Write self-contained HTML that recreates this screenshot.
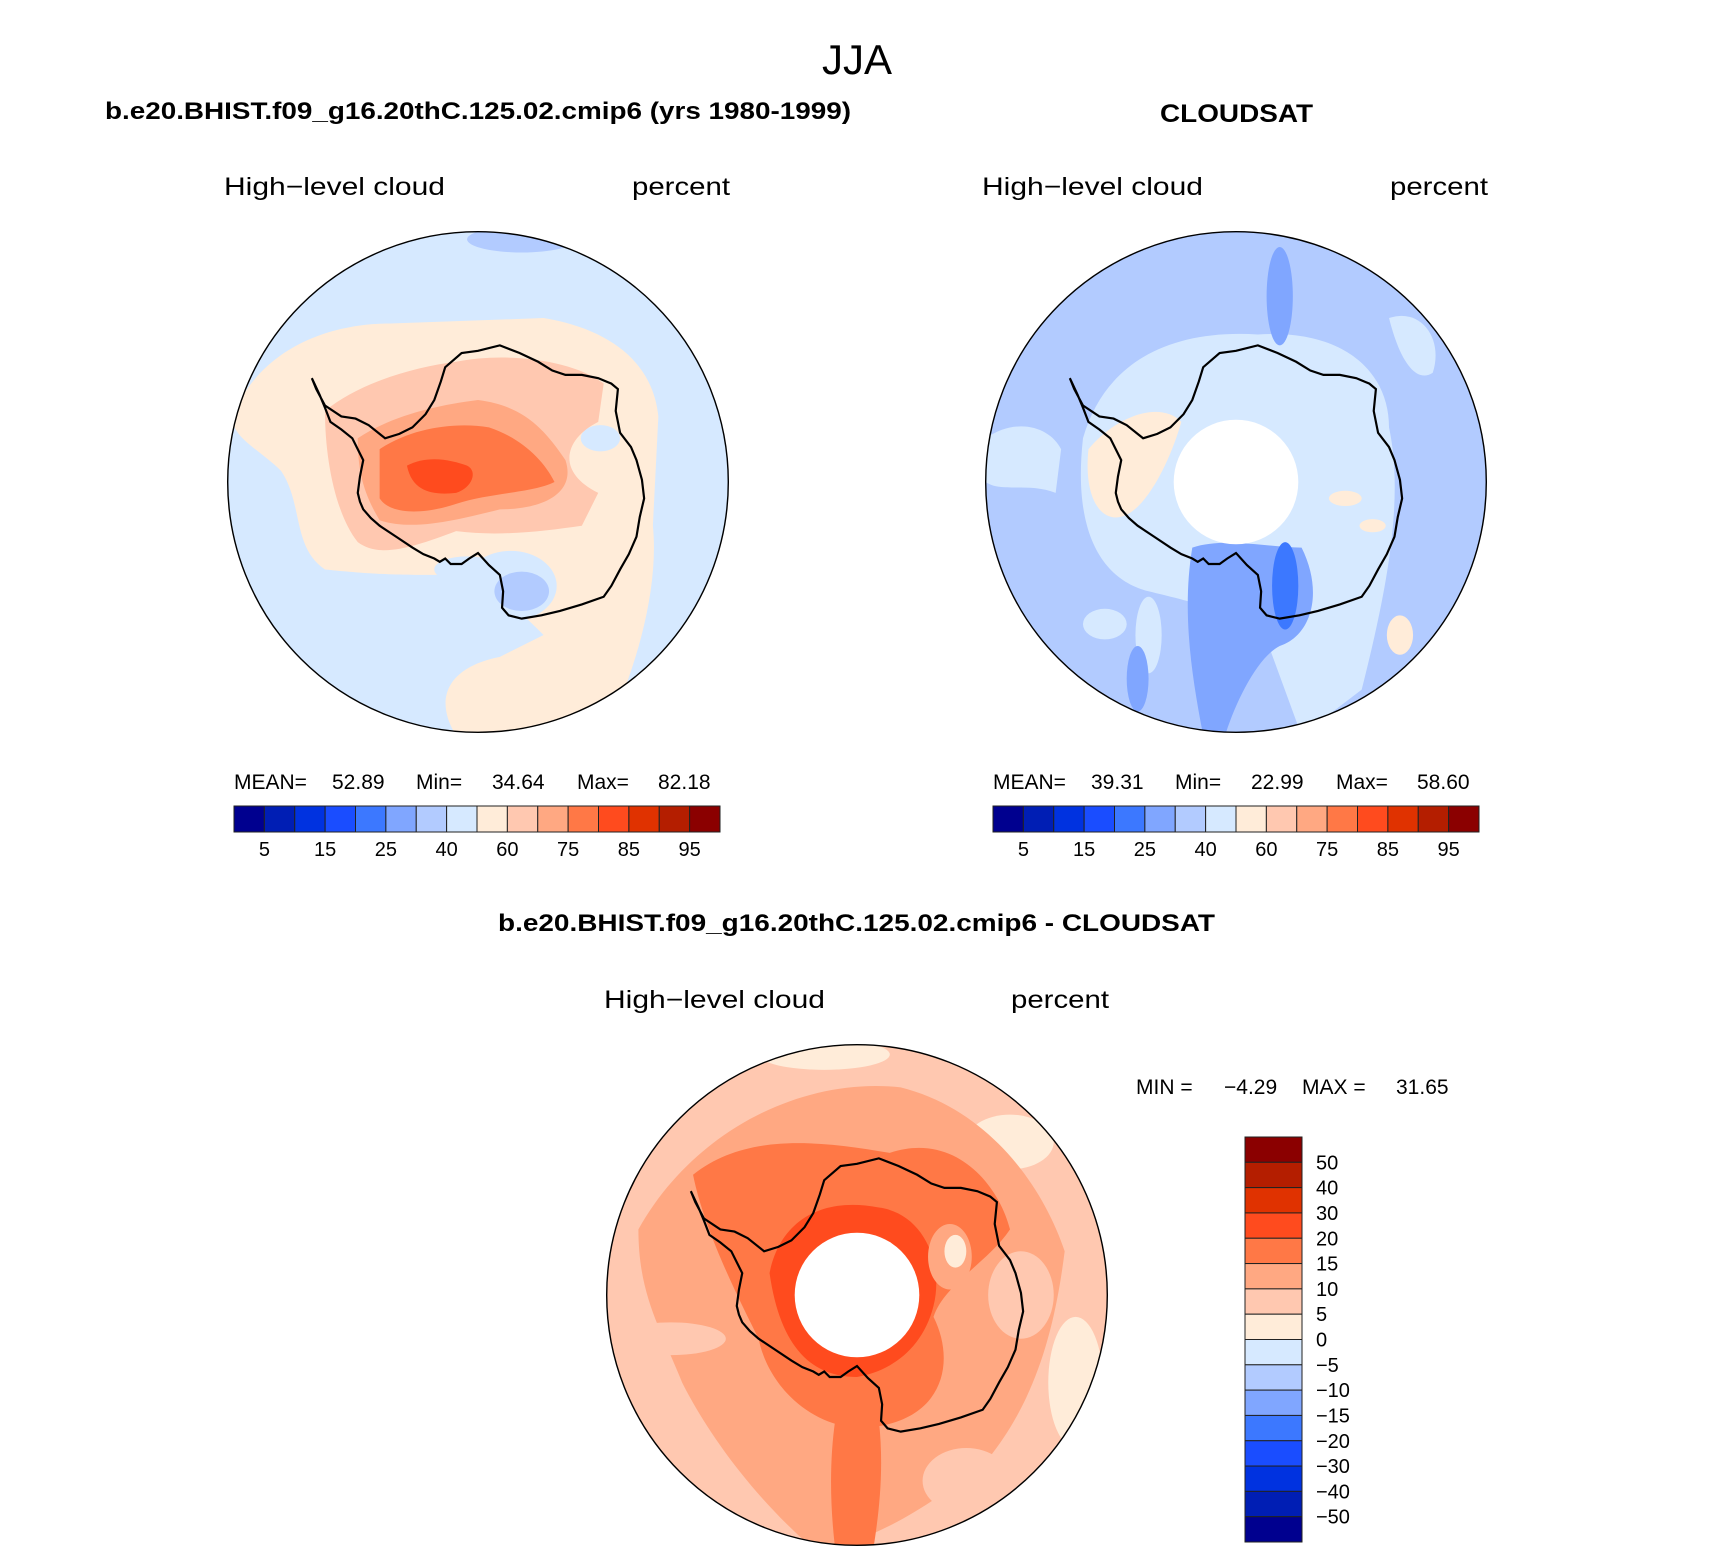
<!DOCTYPE html>
<html><head><meta charset="utf-8">
<style>
html,body{margin:0;padding:0;background:#fff;}
svg{display:block;}
text{font-family:"Liberation Sans",sans-serif;fill:#000;}
</style></head>
<body>
<svg id="fig" width="1710" height="1549" viewBox="0 0 1710 1549" xmlns="http://www.w3.org/2000/svg">
<defs>
  <path id="coast" d="M-152,-95 L-148,-85 L-140,-70 L-125,-60 L-112,-58 L-100,-52 L-85,-40 L-72,-44 L-60,-50 L-48,-62 L-40,-75 L-34,-92 L-30,-105 L-15,-118 L0,-120 L20,-125 L38,-118 L55,-110 L68,-102 L80,-98 L95,-98 L110,-95 L122,-90 L128,-85 L126,-65 L130,-45 L140,-32 L145,-20 L150,-2 L152,15 L148,32 L145,50 L138,66 L130,80 L122,95 L115,105 L95,112 L75,118 L58,122 L40,125 L28,122 L22,115 L23,100 L20,85 L10,76 L0,65 L-8,70 L-15,75 L-25,75 L-30,70 L-35,73 L-40,70 L-50,66 L-60,60 L-75,50 L-90,40 L-98,33 L-105,25 L-108,18 L-110,10 L-108,-5 L-105,-20 L-110,-30 L-115,-40 L-125,-48 L-135,-55 L-140,-68 L-145,-80 Z" fill="none" stroke="#000" stroke-width="2"/>
  <clipPath id="circ"><circle cx="0" cy="0" r="229"/></clipPath>
</defs>
<g id="root"></g>
</svg>
<script>
// ---- colorbar data ----
const mainColors = ["#00008f","#001eb4","#0032e0","#1a4dff","#3c78ff","#80a6ff","#b2cbff","#d6e9ff","#ffecd9","#ffc8b0","#ffa882","#ff7846","#ff4b1e","#e03200","#b41e00","#8b0000"];
const mainTickLabels = ["5","15","25","40","60","75","85","95"];
const diffTickLabels = ["50","40","30","20","15","10","5","0","\u22125","\u221210","\u221215","\u221220","\u221230","\u221240","\u221250"];
const modelStats = ["52.89","34.64","82.18"];
const obsStats = ["39.31","22.99","58.60"];
const diffStats = ["\u22124.29","31.65"];

const NS="http://www.w3.org/2000/svg";
const root=document.getElementById('root');
function mk(tag,attrs,parent){const e=document.createElementNS(NS,tag);for(const k in attrs)e.setAttribute(k,attrs[k]);(parent||root).appendChild(e);return e;}
function txt(s,attrs,parent){const e=mk('text',attrs,parent);e.textContent=s;return e;}
const C=mainColors;

// ---- titles ----
let t;
t=txt("JJA",{x:857,y:74,"font-size":42,"text-anchor":"middle","font-weight":"normal"});


t=txt("b.e20.BHIST.f09_g16.20thC.125.02.cmip6 (yrs 1980-1999)",{x:105,y:119,"font-size":24,"font-weight":"bold",textLength:746,lengthAdjust:"spacingAndGlyphs"});


t=txt("CLOUDSAT",{x:1160,y:122,"font-size":25,"font-weight":"bold",textLength:153,lengthAdjust:"spacingAndGlyphs"});


t=txt("b.e20.BHIST.f09_g16.20thC.125.02.cmip6 - CLOUDSAT",{x:498,y:931,"font-size":24,"font-weight":"bold",textLength:717,lengthAdjust:"spacingAndGlyphs"});



function subtitles(x1,x2,y,name){
  let a=txt("High\u2212level cloud",{x:x1,y:y,"font-size":25,textLength:221,lengthAdjust:"spacingAndGlyphs"});
  
  
  let b=txt("percent",{x:x2,y:y,"font-size":25,textLength:98,lengthAdjust:"spacingAndGlyphs"});
  
  
}
subtitles(224,632,195,'model');
subtitles(982,1390,195,'obs');
subtitles(604,1011,1008,'diff');

// ---- maps ----
function mapPanel(cx,cy,name,base,shapes,hole){
  const g=mk('g',{transform:`translate(${cx},${cy}) scale(1.093)`});
  
  
  const inner=mk('g',{"clip-path":"url(#circ)"},g);
  mk('circle',{cx:0,cy:0,r:229,fill:base},inner);
  shapes.forEach(s=>{mk(s.e||'path',Object.assign({},s.a),inner);});
  mk('use',{href:"#coast"},g);
  if(hole){const h=mk('circle',{cx:0,cy:0,r:57,fill:"#fff"},g);}
  const o=mk('circle',{cx:0,cy:0,r:229,fill:"none",stroke:"#000","stroke-width":1.3},g);
  
  
}
const P=(d,f)=>({a:{d:d,fill:f}});
const E=(cx,cy,rx,ry,f)=>({e:'ellipse',a:{cx,cy,rx,ry,fill:f}});

mapPanel(478,482,'model',C[7],[
  E(40,-222,50,12,C[6]),
  P("M-225,-60 C-200,-120 -140,-145 -80,-145 L60,-150 C120,-140 160,-110 165,-60 L160,40 C165,90 150,150 130,200 L60,232 L-20,232 C-40,200 -30,170 20,160 L60,140 C40,120 10,90 -30,85 C-70,85 -90,85 -140,80 C-170,60 -160,20 -180,-10 C-200,-30 -225,-40 -225,-60Z",C[8]),
  E(30,95,42,32,C[7]),E(40,100,25,18,C[6]),E(112,-40,18,12,C[7]),E(-10,80,30,12,C[7]),
  P("M-140,-65 C-110,-90 -60,-105 -20,-110 C30,-120 90,-110 115,-90 L110,-55 C80,-40 70,-10 110,10 L95,40 C60,45 20,50 -20,45 C-60,60 -90,70 -110,55 C-130,30 -140,-20 -140,-65Z",C[9]),
  P("M-110,-40 C-80,-60 -40,-70 0,-75 C40,-70 60,-50 80,-20 C90,10 60,25 20,25 C-20,35 -60,45 -90,35 C-105,10 -110,-10 -110,-40Z",C[10]),
  P("M-90,-30 C-60,-50 -20,-55 10,-50 C40,-40 60,-20 70,0 C50,10 10,10 -20,20 C-50,30 -80,30 -90,15Z",C[11]),
  P("M-65,-15 C-45,-25 -25,-20 -10,-15 C0,-10 -5,5 -20,10 C-40,12 -60,10 -65,-15Z",C[12])
],false);

mapPanel(1236,482,'obs',C[6],[
  P("M-140,-40 C-120,-110 -60,-140 20,-135 C100,-140 140,-100 140,-50 C155,20 135,110 115,190 L60,232 L30,150 C10,120 -40,110 -80,100 C-120,90 -150,50 -140,-40Z",C[7]),
  P("M-229,-40 C-200,-60 -170,-50 -160,-30 L-165,10 C-190,0 -215,10 -229,0Z",C[7]),
  P("M140,-150 C170,-160 190,-130 180,-100 C165,-90 150,-110 140,-150Z",C[7]),
  E(40,-170,12,45,C[5]),E(-80,140,12,35,C[7]),E(-120,130,20,14,C[7]),
  P("M-135,-30 C-110,-60 -70,-75 -50,-55 C-60,-20 -80,20 -100,30 C-120,40 -140,20 -135,-30Z",C[8]),
  E(100,15,15,7,C[8]),E(125,40,12,6,C[8]),E(150,140,12,18,C[8]),
  P("M-40,60 C-10,50 30,60 60,60 C80,100 70,140 40,150 C20,160 0,200 -10,232 L-30,232 C-40,180 -50,120 -40,60Z",C[5]),
  E(45,95,12,40,C[4]),E(-90,180,10,30,C[5])
],true);

mapPanel(857,1295,'diff',C[9],[
  E(-30,-220,60,14,C[8]),E(140,-140,40,25,C[8]),E(200,80,25,60,C[8]),
  P("M-200,-60 C-150,-150 -50,-200 40,-190 C120,-170 170,-100 190,-40 C180,40 160,100 120,150 C60,200 0,232 -40,232 C-100,180 -140,120 -160,80 C-180,30 -200,0 -200,-60Z",C[10]),
  E(-170,40,50,15,C[9]),E(100,170,40,30,C[9]),E(150,0,30,40,C[9]),
  P("M-150,-110 C-100,-150 -30,-140 30,-130 C90,-150 130,-100 140,-60 C120,-30 80,-10 70,20 C90,60 80,110 20,120 C-30,130 -80,90 -90,40 C-110,0 -140,-60 -150,-110Z",C[11]),
  P("M-20,115 L20,115 C25,160 20,200 15,232 L-20,232 C-25,190 -25,150 -20,115Z",C[11]),
  P("M-80,-20 C-70,-70 -30,-90 20,-80 C60,-75 80,-30 70,10 C60,50 30,70 0,75 C-40,75 -70,50 -80,-20Z",C[12]),
  E(85,-35,20,30,C[10]),E(90,-40,10,15,C[8])
],true);

// ---- horizontal colorbars ----
function hbar(x0,name,stats){
  const y0=806,w=486,h=26,bw=w/16;
  const parts=[["MEAN=",0],[stats[0],98],["Min=",182],[stats[1],258],["Max=",343],[stats[2],424]];
  parts.forEach(p=>{const s=txt(p[0],{x:x0+p[1],y:789,"font-size":21});
    
    });
  const g=mk('g',{});
  
  
  C.forEach((c,i)=>{const r=mk('rect',{x:x0+i*bw,y:y0,width:bw,height:h,fill:c,stroke:"#222","stroke-width":1},g);
    
    });
  mainTickLabels.forEach((l,k)=>{const i=1+2*k;
    const tt=txt(l,{x:x0+i*bw,y:y0+h+24,"font-size":20,"text-anchor":"middle"},g);
    
    });
}
hbar(234,'model',modelStats);
hbar(993,'obs',obsStats);

// ---- vertical diff colorbar ----
(function(){
  const x0=1245,y0=1137,w=57,h=405,bh=h/16;
  const parts=[["MIN =",1136],[diffStats[0],1224],["MAX =",1302],[diffStats[1],1396]];
  parts.forEach(p=>{const s=txt(p[0],{x:p[1],y:1094,"font-size":21});
    
    });
  const g=mk('g',{});
  
  
  C.slice().reverse().forEach((c,i)=>{const r=mk('rect',{x:x0,y:y0+i*bh,width:w,height:bh,fill:c,stroke:"#222","stroke-width":1},g);
    
    });
  diffTickLabels.forEach((l,k)=>{
    const tt=txt(l,{x:1316,y:y0+(k+1)*bh+7,"font-size":20},g);
    
    });
})();
</script>
</body></html>
